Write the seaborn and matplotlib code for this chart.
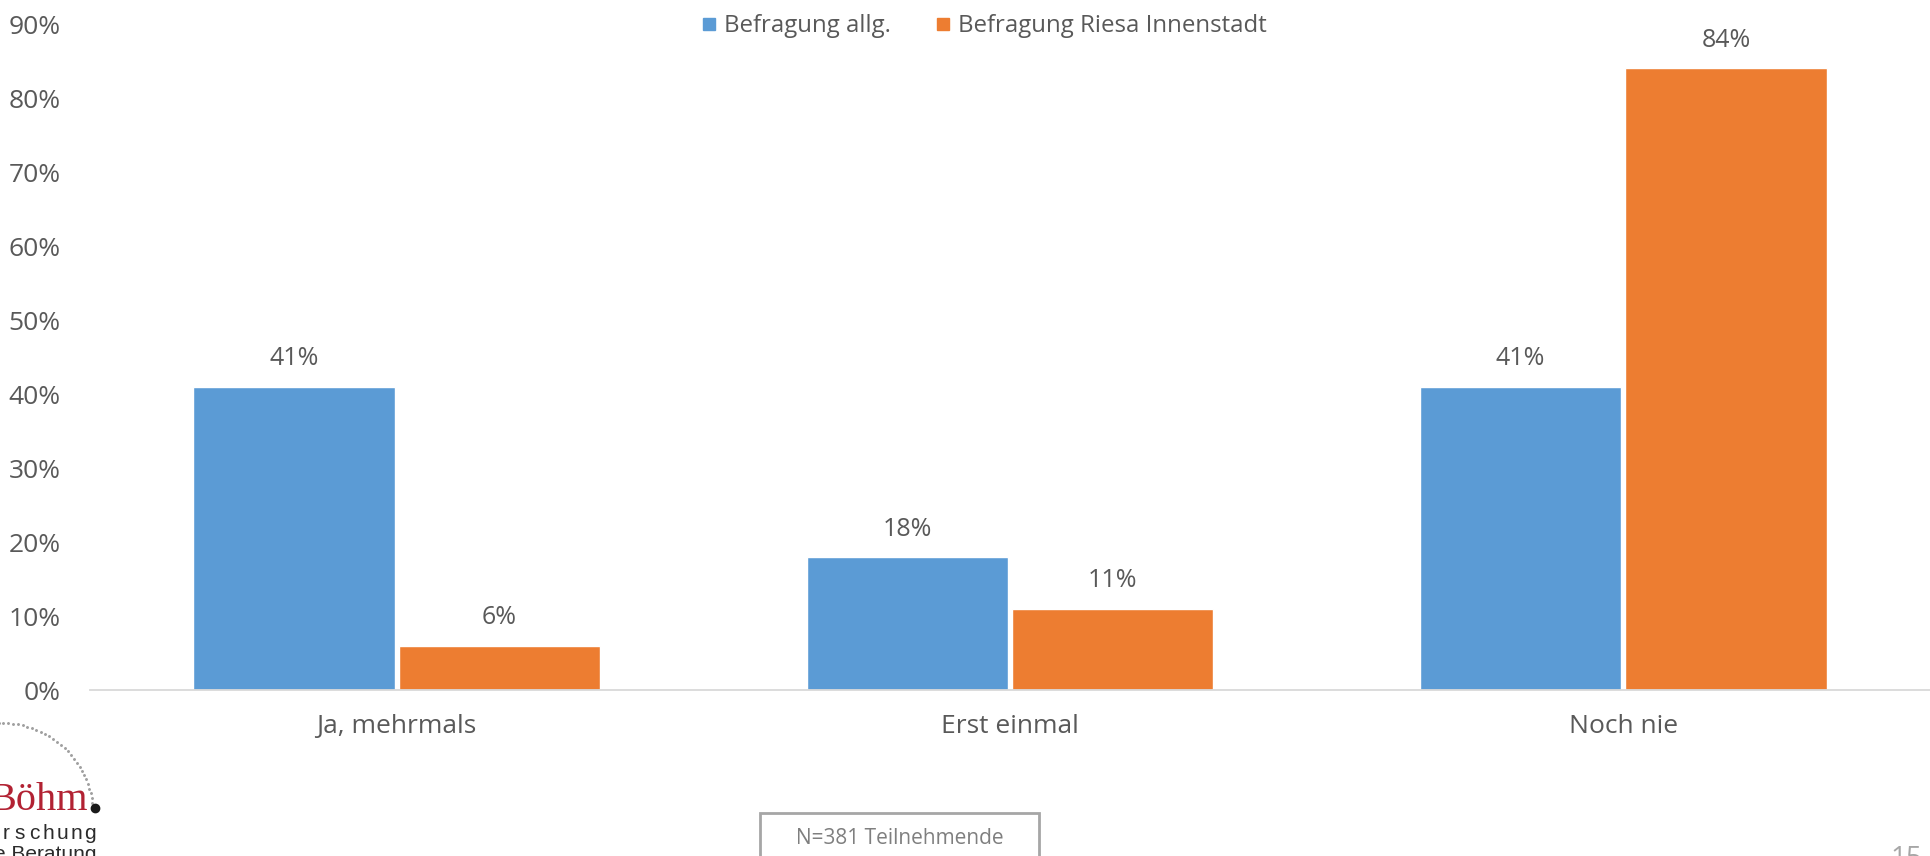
import matplotlib
matplotlib.use("Agg")
import matplotlib.pyplot as plt
import matplotlib.patches as mpatches
from matplotlib.lines import Line2D
from matplotlib.ticker import FixedLocator, PercentFormatter
import numpy as np
import pandas as pd
import seaborn as sns

categories = ["Ja, mehrmals", "Erst einmal", "Noch nie"]
series_names = ["Befragung allg.", "Befragung Riesa Innenstadt"]
values_allg = [41, 18, 41]
values_riesa = [6, 11, 84]
y_ticks = [0, 10, 20, 30, 40, 50, 60, 70, 80, 90]
note_text = "N=381 Teilnehmende"
page_number = "15"

colors = ["#5B9BD5", "#ED7D31"]
text_color = "#595959"

df = pd.DataFrame({
    "Kategorie": categories * 2,
    "Serie": [series_names[0]] * 3 + [series_names[1]] * 3,
    "Wert": values_allg + values_riesa,
})

sns.set_theme(style="white")
plt.rcParams["font.family"] = ["Open Sans", "DejaVu Sans"]

W, H = 1930, 856
fig = plt.figure(figsize=(W / 100, H / 100), dpi=100)
ax = fig.add_axes([90 / W, 1 - 690 / H, 1 - 90 / W, (690 - 24) / H])

sns.barplot(data=df, x="Kategorie", y="Wert", hue="Serie", order=categories,
            hue_order=series_names, palette=colors, width=0.67, gap=0.02,
            saturation=1, legend=False, ax=ax)

ax.set_xlim(-0.5, 2.5)
ax.set_ylim(0, 90)
ax.set_yticks(y_ticks)
ax.yaxis.set_major_formatter(PercentFormatter(decimals=0))
ax.set_xlabel("")
ax.set_ylabel("")

for s in ["top", "right", "left"]:
    ax.spines[s].set_visible(False)
ax.spines["bottom"].set_color("#D9D9D9")
ax.spines["bottom"].set_linewidth(1.3)

ax.tick_params(axis="y", length=0, pad=21, labelsize=19, labelcolor=text_color)
ax.tick_params(axis="x", which="major", length=0, pad=17, labelsize=19,
               labelcolor=text_color)
ax.xaxis.set_minor_locator(FixedLocator([-0.5, 0.5, 1.5, 2.5]))
ax.tick_params(axis="x", which="minor", length=7, width=1.3, color="#D9D9D9")

for cont in ax.containers:
    labels = [f"{v:.0f}%" for v in cont.datavalues]
    ax.bar_label(cont, labels=labels, padding=11, fontsize=18, color=text_color)

handles = [Line2D([], [], marker="s", linestyle="none", markersize=8.5,
                  markerfacecolor=c, markeredgecolor=c) for c in colors]
fig.legend(handles, series_names, loc="center", ncol=2, frameon=False,
           bbox_to_anchor=(983 / W, 1 - 26 / H), fontsize=17.3,
           labelcolor=text_color, handletextpad=0.2, columnspacing=1.8,
           handlelength=0.8)

# note box at the bottom
fig.add_artist(mpatches.Rectangle((760 / W, -0.02), (1039 - 760) / W,
                                  0.02 + (856 - 813) / H, transform=fig.transFigure,
                                  facecolor="none", edgecolor="#A6A6A6", linewidth=2))
fig.text(900 / W, 1 - 838 / H, note_text, ha="center", va="center",
         fontsize=15, color="#7F7F7F")

# page number
fig.text(1922 / W, 1 - 845 / H, page_number, ha="right", va="top",
         fontsize=20, color="#A6A6A6")

# logo: dotted arc ending in a dot, name and tagline
logo_ax = fig.add_axes([0, 0, 130 / W, 170 / H])
logo_ax.set_xlim(0, 130)
logo_ax.set_ylim(856, 686)
logo_ax.axis("off")
t = np.linspace(-0.25, 1.50, 34)
cx, cy, r = 2, 814, 91
logo_ax.plot(cx + r * np.sin(t), cy - r * np.cos(t), linestyle="none",
             marker=".", markersize=2.2, color="#A0A0A0")
logo_ax.plot([95], [808], marker="o", markersize=6, color="#1A1A1A")
logo_ax.text(88, 810, "Böhm", ha="right", va="baseline", fontsize=29,
             family="Liberation Serif", color="#B22233")
for i, ch in enumerate("rschung"):
    logo_ax.text(6 + i * 14, 839, ch, ha="center", va="baseline", fontsize=15,
                 family="Liberation Sans", color="#2B2B2B")
logo_ax.text(97, 860, "e Beratung", ha="right", va="baseline", fontsize=15,
             family="Liberation Sans", color="#2B2B2B")

fig.savefig("out.png", dpi=100, facecolor="white")
